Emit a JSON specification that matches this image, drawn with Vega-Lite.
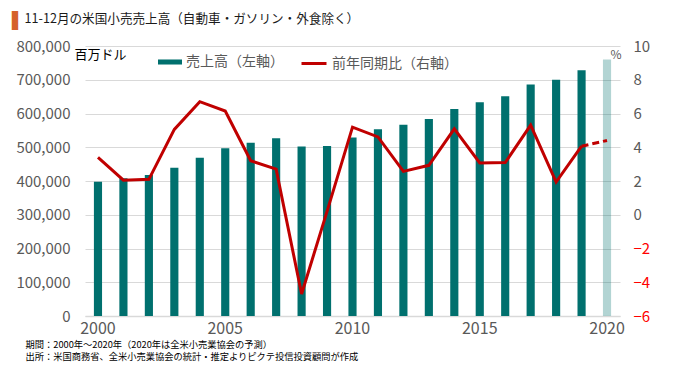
{
"$schema": "https://vega.github.io/schema/vega-lite/v6.json",
"width": 535, "height": 270,
"autosize": {"type": "none"},
"padding": {"left": 85, "top": 46, "right": 60, "bottom": 56},
"background": "white",
"config": {"view": {"stroke": null}, "font": "Noto Sans CJK JP"},
"title": {"text": "▌", "subtitle": "\u200b\u300011-12月の米国小売売上高（自動車・ガソリン・外食除く）", "anchor": "start", "frame": "group", "font": "DejaVu Sans", "fontSize": 16, "color": "#D5612A", "fontWeight": "normal", "subtitleFont": "Noto Sans CJK JP", "subtitleFontSize": 12.6, "subtitleColor": "#1a1a1a", "subtitlePadding": -16, "dx": -73, "offset": 10},
"data": {"values": [
{"year": 2000, "sales": 398000, "yoy": 3.4},
{"year": 2001, "sales": 408000, "yoy": 2.05},
{"year": 2002, "sales": 418000, "yoy": 2.1},
{"year": 2003, "sales": 439000, "yoy": 5.06},
{"year": 2004, "sales": 469000, "yoy": 6.7},
{"year": 2005, "sales": 497000, "yoy": 6.15},
{"year": 2006, "sales": 513000, "yoy": 3.2},
{"year": 2007, "sales": 527000, "yoy": 2.7},
{"year": 2008, "sales": 502000, "yoy": -4.7},
{"year": 2009, "sales": 504000, "yoy": 0.2},
{"year": 2010, "sales": 529000, "yoy": 5.19},
{"year": 2011, "sales": 553000, "yoy": 4.61},
{"year": 2012, "sales": 567000, "yoy": 2.57},
{"year": 2013, "sales": 584000, "yoy": 2.93},
{"year": 2014, "sales": 613000, "yoy": 5.09},
{"year": 2015, "sales": 633000, "yoy": 3.07},
{"year": 2016, "sales": 651000, "yoy": 3.09},
{"year": 2017, "sales": 686000, "yoy": 5.31},
{"year": 2018, "sales": 700000, "yoy": 1.94},
{"year": 2019, "sales": 728000, "yoy": 4.06},
{"year": 2020, "sales": 760000, "yoy": 4.4}
]},
"encoding": {
  "x": {"field": "year", "type": "ordinal", "scale": {"paddingInner": 0.68, "paddingOuter": 0.35},
    "axis": {"values": [2000, 2005, 2010, 2015, 2020], "labelAngle": 0, "labelFontSize": 16, "labelColor": "#595959", "labelPadding": 4, "ticks": false, "domainColor": "#D9D9D9", "domainWidth": 1.5, "grid": false,
      "title": ["期間：2000年～2020年（2020年は全米小売業協会の予測）", "出所：米国商務省、全米小売業協会の統計・推定よりピクテ投信投資顧問が作成"],
      "titleAlign": "left", "titleAnchor": "start", "titleX": -60, "titleY": 24, "titleBaseline": "top", "titleFontSize": 9.25, "titleFontWeight": "normal", "titleColor": "#000000", "titleLineHeight": 12.5}}
},
"layer": [
  {"mark": {"type": "bar"},
   "encoding": {
     "y": {"field": "sales", "type": "quantitative", "scale": {"domain": [0, 800000], "nice": false},
       "axis": {"values": [0, 100000, 200000, 300000, 400000, 500000, 600000, 700000, 800000], "format": ",d", "labelFontSize": 15, "labelColor": "#595959", "labelPadding": 15, "ticks": false, "domain": false, "grid": true, "gridColor": "#D9D9D9", "gridWidth": 1.2,
         "title": "百万ドル", "titleAngle": 0, "titleX": -11, "titleY": 8, "titleAlign": "left", "titleBaseline": "middle", "titleFontSize": 13, "titleFontWeight": "normal", "titleColor": "#000000"}},
     "fill": {"datum": "売上高（左軸）", "type": "nominal", "scale": {"range": ["#00706E"]},
       "legend": {"orient": "none", "legendX": 73, "legendY": 4, "title": null, "symbolType": "M-1,-0.21H1V0.21H-1Z", "symbolSize": 576, "symbolStrokeWidth": 0, "labelFontSize": 14, "labelColor": "#595959", "labelOffset": 4, "padding": 0}},
     "fillOpacity": {"condition": {"test": "datum.year === 2020", "value": 0.3}, "value": 1}
   }},
  {"layer": [
    {"transform": [{"filter": "datum.year <= 2019"}],
     "mark": {"type": "line", "strokeWidth": 3},
     "encoding": {"stroke": {"datum": "前年同期比（右軸）", "type": "nominal", "scale": {"range": ["#C00000"]},
       "legend": {"orient": "none", "legendX": 215, "legendY": 3.5, "title": null, "symbolType": "stroke", "symbolSize": 625, "symbolStrokeWidth": 3, "labelFontSize": 14, "labelColor": "#595959", "labelOffset": 4, "padding": 0}}}},
    {"transform": [{"filter": "datum.year >= 2019"}],
     "mark": {"type": "line", "strokeWidth": 3, "strokeDash": [7, 4], "color": "#C00000"},
     "encoding": {}}
   ],
   "encoding": {
     "y": {"field": "yoy", "type": "quantitative", "scale": {"domain": [-6, 10], "nice": false},
       "axis": {"orient": "right", "values": [-6, -4, -2, 0, 2, 4, 6, 8, 10], "labelFontSize": 15, "labelColor": {"condition": {"test": "datum.value < 0", "value": "#FF0000"}, "value": "#595959"}, "labelPadding": 13, "ticks": false, "domain": false, "grid": false,
         "title": "%", "titleAngle": 0, "titleX": -10, "titleY": 8, "titleAlign": "left", "titleBaseline": "middle", "titleFontSize": 12, "titleFontWeight": "normal", "titleColor": "#595959"}}
   }}
],
"resolve": {"scale": {"y": "independent"}}
}
